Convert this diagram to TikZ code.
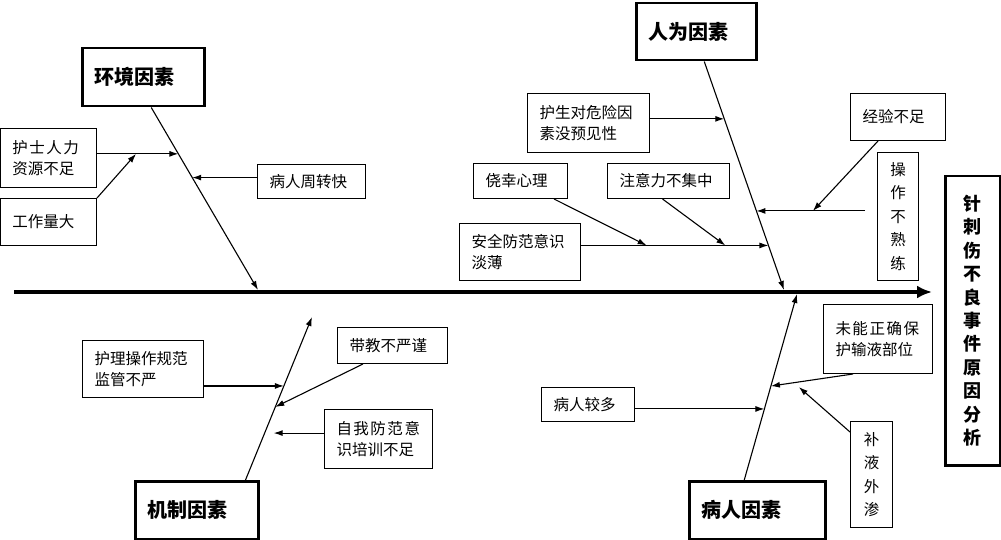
\documentclass[tikz,border=0pt]{standalone}
\usepackage{fontspec}
\newfontfamily\cjk{Noto Sans CJK SC}
\usetikzlibrary{arrows.meta,calc}
\newcommand{\cgap}{\hspace{1.5pt}}
\tikzset{
  box/.style={draw, line width=1pt, anchor=north west, align=left, inner xsep=12pt, inner ysep=0pt, font=\cjk\fontsize{15.5}{21.5}\selectfont},
  cause/.style={box},
  vcause/.style={box, align=center, inner xsep=0pt, font=\cjk\fontsize{15.5}{23.5}\selectfont},
  factor/.style={box, line width=2.5pt, font=\cjk\bfseries\fontsize{20}{24}\selectfont},
  goal/.style={factor, align=center, inner xsep=0pt, font=\cjk\bfseries\fontsize{18}{23.4}\selectfont},
  arr/.style={-{Latex[length=9pt,width=6pt]}, line width=1.1pt},
  spine/.style={-{Latex[length=15pt,width=13pt]}, line width=4pt}}

\begin{document}
\begin{tikzpicture}[x=1pt, y=-1pt]
  \useasboundingbox (0,0) rectangle (1001,540);
  % effect and main spine
  \node[goal, minimum width=55pt, minimum height=289pt] (goal) at (944,175) {针\\刺\\伤\\不\\良\\事\\件\\原\\因\\分\\析};
  \coordinate (tail) at (14,292);
  \draw[spine] (tail) -- ([xshift=-12pt]goal.west |- tail);
  % the four factors
  \node[factor, text width=98pt, minimum height=58pt] (env) at (81,47) {环境因素};
  \node[factor, text width=96pt, minimum height=57pt] (man) at (635,2) {人为因素};
  \node[factor, text width=99pt, minimum height=58pt] (mech) at (134,480) {机制因素};
  \node[factor, text width=112pt, minimum height=58pt] (pat) at (688,480) {病人因素};
  % causes
  \node[cause, text width=72pt, minimum height=59pt] (nurse) at (0,128) {护\cgap 士\cgap 人\cgap 力\\资源不足};
  \node[cause, text width=72pt, minimum height=47pt] (work) at (0,198) {工作量大};
  \node[cause, text width=84pt, minimum height=34pt] (turn) at (257,164) {病人周转快};
  \node[cause, text width=98pt, minimum height=59pt] (fore) at (527,93) {护生对危险因\\素没预见性};
  \node[cause, text width=70pt, minimum height=35pt] (luck) at (473,163) {侥幸心理};
  \node[cause, text width=98pt, minimum height=35pt] (focus) at (607,163) {注意力不集中};
  \node[cause, text width=97pt, minimum height=57pt] (safe) at (459,223) {安全防范意识\\淡薄};
  \node[cause, text width=71pt, minimum height=47pt] (exp) at (850,93) {经验不足};
  \node[vcause, minimum width=41pt, minimum height=128pt] (skill) at (877,152) {操\\作\\不\\熟\\练};
  \node[cause, text width=85pt, minimum height=69pt] (protect) at (823,304) {未\cgap 能\cgap 正\cgap 确\cgap 保\\护输液部位};
  \node[cause, text width=69pt, minimum height=34pt] (many) at (541,387) {病人较多};
  \node[vcause, minimum width=42pt, minimum height=106pt] (leak) at (850,421) {补\\液\\外\\渗};
  \node[cause, text width=97pt, minimum height=57pt] (supv) at (82,340) {护理操作规范\\监管不严};
  \node[cause, text width=86pt, minimum height=36pt] (teach) at (337,327) {带教不严谨};
  \node[cause, text width=84pt, minimum height=59pt] (self) at (324,409) {自\cgap 我\cgap 防\cgap 范\cgap 意\\识培训不足};

  % environment bone
  \coordinate (e0) at ([xshift=8pt]env.south);
  \coordinate (e9) at (258,290);
  \draw[arr] (e0) -- (e9);
  \coordinate (e1) at ($(e0)!0.254!(e9)$);
  \coordinate (e2) at ($(e0)!0.384!(e9)$);
  \draw[arr] (nurse.east |- e1) -- (e1);
  \draw[arr] (work.north east) -- ($(nurse.east |- e1)!0.48!(e1)$);
  \draw[arr] (turn.west |- e2) -- (e2);

  % human bone
  \coordinate (m0) at ([xshift=8pt]man.south);
  \coordinate (m9) at (784,290);
  \draw[arr] (m0) -- (m9);
  \coordinate (m1) at ($(m0)!0.251!(m9)$);
  \coordinate (m2) at ($(m0)!0.654!(m9)$);
  \coordinate (m3) at ($(m0)!0.805!(m9)$);
  \draw[arr] (fore.east |- m1) -- (m1);
  \coordinate (s0) at ([xshift=-12pt]skill.west |- m2);
  \draw[arr] (s0) -- (m2);
  \draw[arr] ([xshift=-20pt]exp.south) -- ($(m2)!0.52!(s0)$);
  \draw[arr] (safe.east |- m3) -- (m3);
  \draw[arr] ([xshift=-14pt]luck.south east) -- ($(safe.east |- m3)!0.35!(m3)$);
  \draw[arr] ([xshift=-6pt]focus.south) -- ($(safe.east |- m3)!0.77!(m3)$);

  % patient bone
  \coordinate (p0) at ([xshift=-13pt]pat.north);
  \coordinate (p9) at (797,294);
  \draw[arr] (p0) -- (p9);
  \coordinate (p1) at ($(p0)!0.382!(p9)$);
  \coordinate (p2) at ($(p0)!0.505!(p9)$);
  \draw[arr] (many.east |- p1) -- (p1);
  \draw[arr] ([xshift=30pt]protect.south west) -- (p2);
  \coordinate (leakhit) at ([xshift=28pt,yshift=-1pt]p2);
  \draw[arr] ([yshift=-11pt]leak.north west) -- (leakhit);

  % mechanism bone
  \coordinate (c0) at ([xshift=-14pt]mech.north east);
  \coordinate (c9) at (312,317);
  \draw[arr] (c0) -- (c9);
  \coordinate (c1) at ($(c0)!0.577!(c9)$);
  \coordinate (c2) at ($(c0)!0.448!(c9)$);
  \coordinate (c3) at ($(c0)!0.288!(c9)$);
  \draw[arr] (supv.east |- c1) -- (c1);
  \draw[arr] ([xshift=26pt]teach.south west) -- (c2);
  \draw[arr] (self.west |- c3) -- ([xshift=9pt]c3);
\end{tikzpicture}
\end{document}
